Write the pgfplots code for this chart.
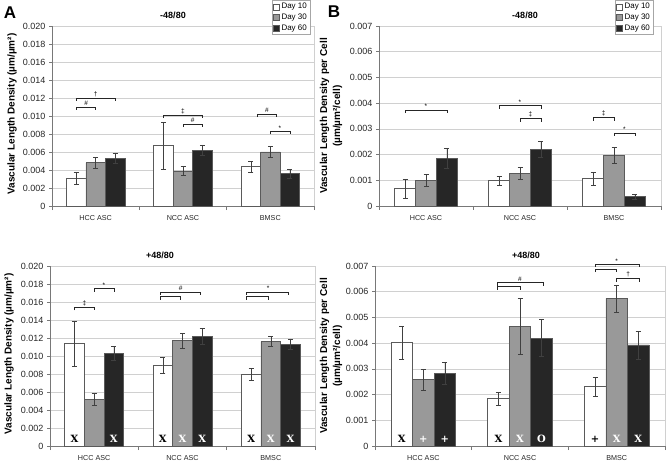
\documentclass[border=0pt]{standalone}
\usepackage{pgfplots}
\pgfplotsset{compat=1.18}
\usepackage{fontspec}
\setmainfont{Liberation Sans}
\newfontfamily\mkfont{DejaVu Serif}
\definecolor{dthirty}{RGB}{153,153,153}
\definecolor{dsixty}{RGB}{38,38,38}
\definecolor{gridc}{RGB}{208,208,208}
\definecolor{axisc}{RGB}{120,120,120}
\definecolor{barline}{RGB}{90,90,90}

\pgfplotsset{
  panel/.style={
    scale only axis, clip=false,
    ybar=0pt, bar width=0.223,
    xmin=-0.5, xmax=2.5, ymin=0,
    scaled y ticks=false,
    axis x line*=bottom, axis y line*=left,
    axis line style={draw=axisc, line width=0.7pt, -},
    xtick={0,1,2}, xticklabels={HCC ASC,NCC ASC,BMSC},
    minor xtick={-0.5,0.5,1.5,2.5},
    major x tick style={draw=none},
    minor tick length=4pt,
    major tick length=3pt,
    tick align=outside,
    tick style={draw=axisc, line width=0.6pt},
    ymajorgrids, grid style={draw=gridc, line width=0.7pt},
    xticklabel style={font=\fontsize{7.2}{8}\selectfont, text=black!85, yshift=-3pt},
    yticklabel style={font=\fontsize{9}{10}\selectfont, text=black!85},
    every axis plot/.append style={draw=barline, line width=0.6pt},
    legend image code/.code={\draw[#1, line width=0.5pt] (0pt,-3pt) rectangle (6pt,3pt);},
    legend style={font=\fontsize{8}{9.5}\selectfont, draw=gridc!80!black, inner sep=1pt, row sep=-0.5pt, cells={anchor=west}},
    legend cell align=left,
    error bars/y dir=both, error bars/y explicit,
    error bars/error bar style={draw=black!75, line width=0.5pt},
    error bars/error mark options={draw=black!75, rotate=90, mark size=2.5pt, line width=0.5pt},
  },
  yA/.style={ymax=0.020, ytick={0,0.002,...,0.0201},
    yticklabels={0,0.002,0.004,0.006,0.008,0.010,0.012,0.014,0.016,0.018,0.020}},
  yB/.style={ymax=0.007, ytick={0,0.001,...,0.00701},
    yticklabels={0,0.001,0.002,0.003,0.004,0.005,0.006,0.007}},
}
\tikzset{
  brk/.style={draw=black!85, line width=0.6pt},
  sym/.style={anchor=south, inner sep=1pt, font=\fontsize{6.5}{7}\selectfont},
  mk/.style={anchor=south, inner sep=0pt, yshift=3pt, font=\mkfont\bfseries\fontsize{10}{10}\selectfont},
}
% bracket: x1, x2, y
\newcommand{\brk}[3]{\draw[brk] ([yshift=-3pt]axis cs:#1,#3) -- (axis cs:#1,#3) -- (axis cs:#2,#3) -- ([yshift=-3pt]axis cs:#2,#3);}
\newcommand{\lab}[3]{\node[sym] at (axis cs:#1,#2) {#3};}

\begin{document}
\begin{tikzpicture}
\path[use as bounding box] (0pt,0pt) rectangle (666pt,-462pt);

% ---------------- A top ----------------
\begin{axis}[panel, yA, at={(52pt,-206pt)}, anchor=south west, width=262pt, height=180pt,
  legend style={at={(0.985,1.144)}, anchor=north east}]
\addplot[fill=white] coordinates {(0,0.0031) +- (0,0.0007) (1,0.0067) +- (0,0.0026) (2,0.0044) +- (0,0.0006)};
\addplot[fill=dthirty] coordinates {(0,0.0048) +- (0,0.0006) (1,0.0039) +- (0,0.0005) (2,0.0060) +- (0,0.0006)};
\addplot[fill=dsixty] coordinates {(0,0.0053) +- (0,0.0006) (1,0.0062) +- (0,0.0006) (2,0.0036) +- (0,0.0005)};
\legend{Day 10,Day 30,Day 60}
\draw[draw=gridc, line width=0.7pt] (rel axis cs:1,0) -- (rel axis cs:1,1);
\brk{-0.223}{0.223}{0.0120} \lab{0}{0.0120}{\dag}
\brk{-0.223}{0}{0.0110} \lab{-0.11}{0.0110}{\#}
\brk{0.777}{1.223}{0.0101} \lab{1}{0.0101}{\ddag}
\brk{1}{1.223}{0.0091} \lab{1.11}{0.0091}{\#}
\brk{1.85}{2.07}{0.0102} \lab{1.96}{0.0102}{\#}
\brk{2}{2.223}{0.0083} \lab{2.11}{0.0083}{*}
\end{axis}

% ---------------- B top ----------------
\begin{axis}[panel, yB, at={(379pt,-206pt)}, anchor=south west, width=282pt, height=180pt,
  legend style={at={(0.972,1.144)}, anchor=north east}]
\addplot[fill=white] coordinates {(0,0.00067) +- (0,0.00038) (1,0.00099) +- (0,0.00017) (2,0.00106) +- (0,0.00027)};
\addplot[fill=dthirty] coordinates {(0,0.00100) +- (0,0.00023) (1,0.00127) +- (0,0.00022) (2,0.00197) +- (0,0.00032)};
\addplot[fill=dsixty] coordinates {(0,0.00186) +- (0,0.00038) (1,0.00219) +- (0,0.00031) (2,0.00036) +- (0,0.00009)};
\legend{Day 10,Day 30,Day 60}
\draw[draw=gridc, line width=0.7pt] (rel axis cs:1,0) -- (rel axis cs:1,1);
\brk{-0.223}{0.223}{0.00373} \lab{0}{0.00373}{*}
\brk{0.777}{1.223}{0.0039} \lab{1}{0.0039}{*}
\brk{1}{1.223}{0.0034} \lab{1.11}{0.0034}{\ddag}
\brk{1.777}{2}{0.00344} \lab{1.89}{0.00344}{\ddag}
\brk{2}{2.223}{0.00284} \lab{2.11}{0.00284}{*}
\end{axis}

% ---------------- A bottom ----------------
\begin{axis}[panel, yA, at={(50pt,-446pt)}, anchor=south west, width=265pt, height=180pt]
\addplot[fill=white] coordinates {(0,0.0114) +- (0,0.0025) (1,0.0090) +- (0,0.0009) (2,0.0080) +- (0,0.00067)};
\addplot[fill=dthirty] coordinates {(0,0.0052) +- (0,0.00065) (1,0.0117) +- (0,0.0008) (2,0.0116) +- (0,0.00055)};
\addplot[fill=dsixty] coordinates {(0,0.0103) +- (0,0.0008) (1,0.0122) +- (0,0.00085) (2,0.0113) +- (0,0.0006)};
\draw[draw=gridc, line width=0.7pt] (rel axis cs:1,0) -- (rel axis cs:1,1);
\brk{-0.223}{0}{0.0154} \lab{-0.11}{0.0154}{\ddag}
\brk{0}{0.223}{0.0175} \lab{0.11}{0.0175}{*}
\brk{0.75}{1.2}{0.0171} \brk{0.75}{0.98}{0.0166} \lab{0.98}{0.0171}{\#}
\brk{1.72}{2.2}{0.0171} \brk{1.72}{1.97}{0.0166} \lab{1.97}{0.0171}{*}
\node[mk, text=black] at (axis cs:-0.223,0) {X};
\node[mk, text=white] at (axis cs:0.223,0) {X};
\node[mk, text=black] at (axis cs:0.777,0) {X};
\node[mk, text=white] at (axis cs:1,0) {X};
\node[mk, text=white] at (axis cs:1.223,0) {X};
\node[mk, text=black] at (axis cs:1.777,0) {X};
\node[mk, text=white] at (axis cs:2,0) {X};
\node[mk, text=white] at (axis cs:2.223,0) {X};
\end{axis}

% ---------------- B bottom ----------------
\begin{axis}[panel, yB, at={(375pt,-446pt)}, anchor=south west, width=290pt, height=180pt]
\addplot[fill=white] coordinates {(0,0.00402) +- (0,0.00063) (1,0.00184) +- (0,0.00026) (2,0.00232) +- (0,0.00037)};
\addplot[fill=dthirty] coordinates {(0,0.00259) +- (0,0.00041) (1,0.00465) +- (0,0.0011) (2,0.00574) +- (0,0.00053)};
\addplot[fill=dsixty] coordinates {(0,0.00283) +- (0,0.00041) (1,0.00420) +- (0,0.00072) (2,0.00393) +- (0,0.00054)};
\draw[draw=gridc, line width=0.7pt] (rel axis cs:1,0) -- (rel axis cs:1,1);
\brk{0.77}{1.237}{0.00635} \brk{0.77}{1.0}{0.0062} \lab{1.0}{0.00635}{\#}
\brk{1.78}{2.237}{0.00707} \brk{1.78}{2.0}{0.00688} \lab{2.0}{0.00707}{*}
\brk{2.0}{2.237}{0.00651} \lab{2.12}{0.00651}{\dag}
\node[mk, text=black] at (axis cs:-0.223,0) {X};
\node[mk, text=white] at (axis cs:0,0) {+};
\node[mk, text=white] at (axis cs:0.223,0) {+};
\node[mk, text=black] at (axis cs:0.777,0) {X};
\node[mk, text=white] at (axis cs:1,0) {X};
\node[mk, text=white] at (axis cs:1.223,0) {O};
\node[mk, text=black] at (axis cs:1.777,0) {+};
\node[mk, text=white] at (axis cs:2,0) {X};
\node[mk, text=white] at (axis cs:2.223,0) {X};
\end{axis}

% ---------------- texts ----------------
\node[font=\bfseries\fontsize{17}{17}\selectfont] at (10pt,-13pt) {A};
\node[font=\bfseries\fontsize{17}{17}\selectfont] at (334pt,-12pt) {B};
\node[font=\bfseries\fontsize{9}{10}\selectfont] at (173pt,-15pt) {-48/80};
\node[font=\bfseries\fontsize{9}{10}\selectfont] at (525pt,-15pt) {-48/80};
\node[font=\bfseries\fontsize{9}{10}\selectfont] at (160pt,-255pt) {+48/80};
\node[font=\bfseries\fontsize{9}{10}\selectfont] at (526pt,-255pt) {+48/80};
\node[rotate=90, font=\bfseries\fontsize{10}{12}\selectfont] at (12pt,-114pt) {Vascular Length Density (µm/µm²)};
\node[rotate=90, font=\bfseries\fontsize{10}{12}\selectfont] at (9pt,-354pt) {Vascular Length Density (µm/µm²)};
\node[rotate=90, align=center, font=\bfseries\fontsize{10}{13}\selectfont] at (331pt,-116pt) {Vascular Length Density per Cell\\(µm/µm²/cell)};
\node[rotate=90, align=center, font=\bfseries\fontsize{10}{13}\selectfont] at (331pt,-356pt) {Vascular Length Density per Cell\\(µm/µm²/cell)};
\end{tikzpicture}
\end{document}
